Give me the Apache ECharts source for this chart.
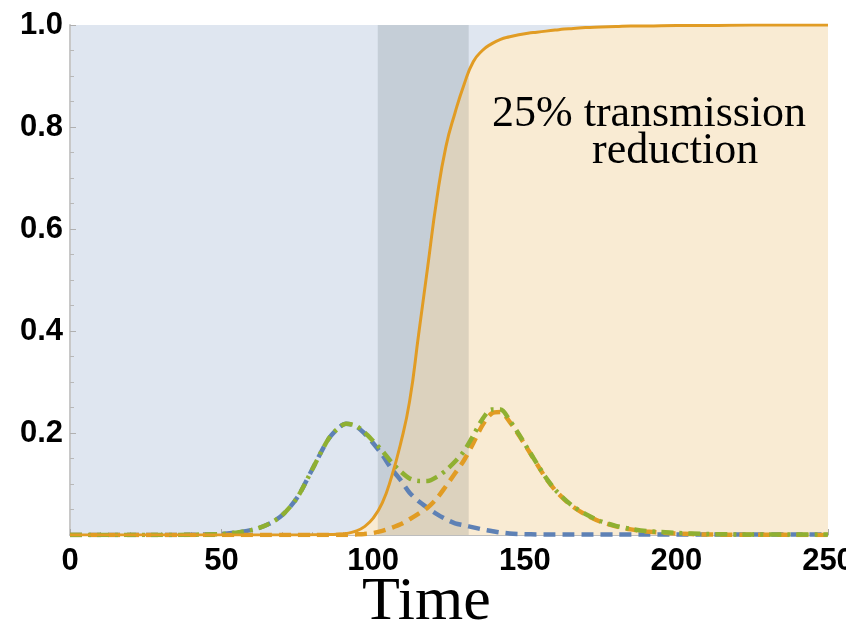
<!DOCTYPE html>
<html>
<head>
<meta charset="utf-8">
<script src="https://cdn.jsdelivr.net/npm/echarts@6/dist/echarts.min.js"></script>
<style>
  html, body { margin: 0; padding: 0; background: #ffffff; }
  #chart { width: 846px; height: 632px; }
</style>
</head>
<body>
<div id="chart"></div>
<script>
// Sample times
const time = [0, 10, 20, 30, 40, 50, 55, 60, 65, 70, 75, 80, 85, 88, 91, 94, 97, 100, 103, 106,
  109, 112, 115, 118, 121, 124, 127, 130, 133, 136, 139, 142, 145, 148, 151, 154, 157, 160, 163, 166,
  170, 175, 180, 185, 190, 200, 210, 225, 250];

// Fraction of the population under the new strain (solid orange)
const reached = [0, 0, 0, 0, 0, 0, 0, 0, 0, 0, 0, 0.0005, 0.001, 0.0015, 0.003,
  0.007, 0.016, 0.033, 0.063, 0.113, 0.178, 0.262, 0.394, 0.527, 0.66,
  0.762, 0.828, 0.884, 0.928, 0.95, 0.963, 0.972, 0.977, 0.981, 0.984,
  0.986, 0.988, 0.99, 0.992, 0.993, 0.995, 0.996, 0.997, 0.998, 0.998,
  0.999, 0.999, 1.0, 1.0];

// Infected, first strain (blue dashed)
const infectedA = [0, 0, 0, 0, 0.0005, 0.002, 0.005, 0.01, 0.02, 0.039,
  0.074, 0.13, 0.186, 0.207, 0.218, 0.214, 0.2, 0.18, 0.157, 0.13,
  0.108, 0.083, 0.066, 0.053, 0.041, 0.031, 0.023, 0.019, 0.015, 0.011,
  0.008, 0.005, 0.003, 0.002, 0.0015, 0.001, 0.001, 0.001, 0.001, 0.001,
  0.001, 0.001, 0.001, 0.001, 0.001, 0.001, 0.001, 0.001, 0.001];

// Infected, second strain (orange dashed)
const infectedB = [0, 0, 0, 0, 0, 0, 0, 0, 0, 0, 0, 0, 0, 0, 0,
  0.001, 0.002, 0.004, 0.008, 0.014, 0.021, 0.031, 0.042, 0.054, 0.072,
  0.096, 0.121, 0.147, 0.18, 0.215, 0.238, 0.241, 0.222, 0.196, 0.168,
  0.139, 0.111, 0.088, 0.07, 0.055, 0.04, 0.026, 0.017, 0.011, 0.007,
  0.003, 0.001, 0.0005, 0];

// Total infected (green dot-dashed)
const infectedTotal = [0, 0, 0, 0, 0.0005, 0.002, 0.005, 0.01, 0.02, 0.039,
  0.074, 0.13, 0.186, 0.207, 0.218, 0.215, 0.202, 0.184, 0.165, 0.143,
  0.125, 0.111, 0.106, 0.106, 0.114, 0.127, 0.144, 0.165, 0.195, 0.227,
  0.246, 0.246, 0.225, 0.198, 0.169, 0.14, 0.112, 0.089, 0.071, 0.056,
  0.041, 0.027, 0.018, 0.012, 0.008, 0.004, 0.002, 0.001, 0.001];

// Intervention window on the time axis
const bandStart = 101.5;
const bandEnd = 131.5;

const xTicks = { min: 0, max: 250, step: 50 };
const yTicks = { min: 0, max: 1, step: 0.2 };

const pairs = vals => time.map((t, i) => [t, vals[i]]);

const BLUE = '#5E81B5';
const ORANGE = '#E19C24';
const GREEN = '#8FB032';

const chart = echarts.init(document.getElementById('chart'), null, { renderer: 'canvas' });

const labelFont = {
  color: '#000',
  fontFamily: 'Liberation Sans, Arial, sans-serif',
  fontWeight: 'bold',
  fontSize: 31
};

const serif = '"Liberation Serif", "Times New Roman", serif';

chart.setOption({
  animation: false,
  backgroundColor: '#ffffff',
  grid: {
    left: 70, right: 18, top: 25, bottom: 97,
    outerBoundsMode: 'none',
    containLabel: false,
    show: true,
    backgroundColor: '#dfe6f0',
    borderWidth: 0
  },
  xAxis: {
    type: 'value',
    min: xTicks.min, max: xTicks.max, interval: xTicks.step,
    axisLine: { show: true, lineStyle: { color: '#a8a8a8', width: 1.5 } },
    axisTick: { show: true, inside: true, length: 6, lineStyle: { color: '#a8a8a8' } },
    minorTick: { show: true, splitNumber: 5, length: 3, lineStyle: { color: '#b5b5b5' } },
    splitLine: { show: false },
    axisLabel: Object.assign({ margin: 11, hideOverlap: false }, labelFont)
  },
  yAxis: {
    type: 'value',
    min: yTicks.min, max: yTicks.max, interval: yTicks.step,
    axisLine: { show: true, lineStyle: { color: '#c8c8c8', width: 2 } },
    axisTick: { show: true, inside: true, length: 6, lineStyle: { color: '#b0b0b0' } },
    minorTick: { show: true, splitNumber: 4, length: 4, lineStyle: { color: '#b8b8b8' } },
    splitLine: { show: false },
    axisLabel: Object.assign({
      margin: 7,
      formatter: v => (v === 0 ? '' : v.toFixed(1))
    }, labelFont)
  },
  series: [
    {
      // region reached by the new strain
      type: 'line',
      z: 1,
      data: pairs(reached),
      smooth: 0.5,
      showSymbol: false,
      lineStyle: { width: 0 },
      areaStyle: { color: '#f9ebd3', opacity: 1 },
      silent: true
    },
    {
      // intervention window, drawn over both fills
      type: 'line',
      z: 3,
      data: [],
      markArea: {
        z: 3,
        silent: true,
        itemStyle: { color: 'rgba(20,30,45,0.12)' },
        data: [[{ coord: [bandStart, 0] }, { coord: [bandEnd, 1] }]]
      }
    },
    {
      type: 'line',
      z: 5,
      data: pairs(infectedA),
      smooth: 0.3,
      showSymbol: false,
      lineStyle: { color: BLUE, width: 4.5, type: [12, 7] }
    },
    {
      type: 'line',
      z: 6,
      data: pairs(infectedB),
      smooth: 0.3,
      showSymbol: false,
      lineStyle: { color: ORANGE, width: 4.5, type: [12, 7] }
    },
    {
      type: 'line',
      z: 7,
      data: pairs(infectedTotal),
      smooth: 0.3,
      showSymbol: false,
      lineStyle: { color: GREEN, width: 4.5, type: [12, 6, 3, 6] }
    },
    {
      type: 'line',
      z: 8,
      data: pairs(reached),
      smooth: 0.5,
      showSymbol: false,
      lineStyle: { color: ORANGE, width: 3 }
    }
  ],
  graphic: [
    {
      type: 'text',
      z: 100,
      left: 492, top: 92,
      style: { text: '25% transmission', fill: '#000', fontSize: 44, fontFamily: serif }
    },
    {
      type: 'text',
      z: 100,
      left: 592, top: 129,
      style: { text: 'reduction', fill: '#000', fontSize: 44, fontFamily: serif }
    },
    {
      type: 'text',
      z: 100,
      left: 362, top: 572,
      style: { text: 'Time', fill: '#000', fontSize: 62, fontFamily: serif }
    }
  ]
});
</script>
</body>
</html>
